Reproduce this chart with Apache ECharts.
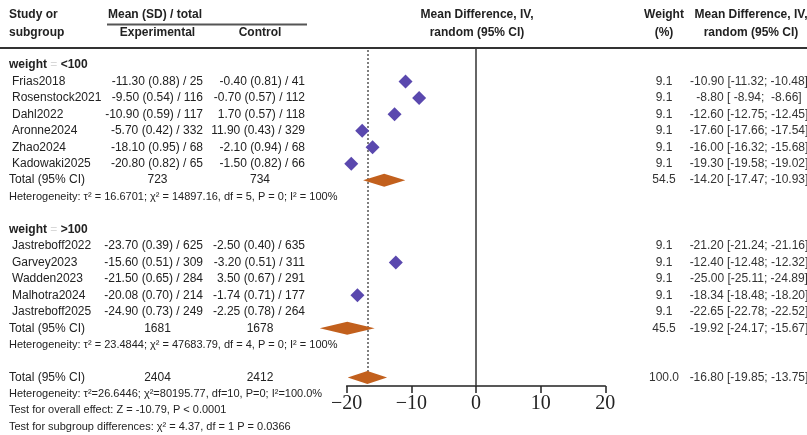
<!DOCTYPE html>
<html><head><meta charset="utf-8">
<script src="https://cdn.jsdelivr.net/npm/echarts@6/dist/echarts.min.js"></script>
<style>html,body{margin:0;padding:0;background:#fff}#c{width:807px;height:435px}</style>
</head><body><div id="c"></div>
<script>
// ---------------- data ----------------
const studies   = ['Frias2018','Rosenstock2021','Dahl2022','Aronne2024','Zhao2024','Kadowaki2025',
                   'Jastreboff2022','Garvey2023','Wadden2023','Malhotra2024','Jastreboff2025'];
const groupOf   = [0,0,0,0,0,0,1,1,1,1,1];
const expMean   = [-11.30,-9.50,-10.90,-5.70,-18.10,-20.80,-23.70,-15.60,-21.50,-20.08,-24.90];
const expSD     = [0.88,0.54,0.59,0.42,0.95,0.82,0.39,0.51,0.65,0.70,0.73];
const expN      = [25,116,117,332,68,65,625,309,284,214,249];
const ctlMean   = [-0.40,-0.70,1.70,11.90,-2.10,-1.50,-2.50,-3.20,3.50,-1.74,-2.25];
const ctlSD     = [0.81,0.57,0.57,0.43,0.94,0.82,0.40,0.51,0.67,0.71,0.78];
const ctlN      = [41,112,118,329,68,66,635,311,291,177,264];
const md        = [-10.90,-8.80,-12.60,-17.60,-16.00,-19.30,-21.20,-12.40,-25.00,-18.34,-22.65];
const mdLo      = [-11.32,-8.94,-12.75,-17.66,-16.32,-19.58,-21.24,-12.48,-25.11,-18.48,-22.78];
const mdHi      = [-10.48,-8.66,-12.45,-17.54,-15.68,-19.02,-21.16,-12.32,-24.89,-18.20,-22.52];
const weights   = [9.1,9.1,9.1,9.1,9.1,9.1,9.1,9.1,9.1,9.1,9.1];

const groupNames = ['<100','>100'];
const groupMD    = [-14.20,-19.92];
const groupLo    = [-17.47,-24.17];
const groupHi    = [-10.93,-15.67];
const groupW     = [54.5,45.5];
const groupHet   = ['Heterogeneity: \u03c4\u00b2 = 16.6701; \u03c7\u00b2 = 14897.16, df = 5, P = 0; I\u00b2 = 100%',
                    'Heterogeneity: \u03c4\u00b2 = 23.4844; \u03c7\u00b2 = 47683.79, df = 4, P = 0; I\u00b2 = 100%'];
const overallMD  = -16.80, overallLo = -19.85, overallHi = -13.75, overallW = 100.0;
const overallTexts = ['Heterogeneity: \u03c4\u00b2=26.6446; \u03c7\u00b2=80195.77, df=10, P=0; I\u00b2=100.0%',
                      'Test for overall effect: Z = -10.79, P < 0.0001',
                      'Test for subgroup differences: \u03c7\u00b2 = 4.37, df = 1 P = 0.0366'];
const xTicks = [-20,-10,0,10,20];

// ---------------- layout ----------------
const W = 807, H = 435;
const ROW0 = 65, ROW_H = 16.45;
const HEADER_LINE_Y = 48, AXIS_Y = 386;
const X_LEFT = 346.7, X_RIGHT = 605.3;
const rowY = r => ROW0 + r * ROW_H;
const SANS = '"Liberation Sans", Arial, Helvetica, sans-serif';
const TXT = '#222';

// rows
const studyRow = [], groupHeadRow = [], groupTotRow = [], groupHetRow = [];
let r = 0;
for (let g = 0; g < 2; g++) {
  groupHeadRow.push(r); r++;
  studies.forEach((s, i) => { if (groupOf[i] === g) { studyRow[i] = r; r++; } });
  groupTotRow.push(r); r++;
  groupHetRow.push(r); r++;
  r++; // blank
}
const overallRow = r;

const fmt2 = v => v.toFixed(2);
const pad = (s, n) => (' '.repeat(Math.max(0, n - s.length))) + s;
const ciText = (m, lo, hi) => fmt2(m) + ' [' + pad(fmt2(lo), 6) + '; ' + pad(fmt2(hi), 6) + ']';
const sum = a => a.reduce((p, c) => p + c, 0);

// ---------------- chart ----------------
const chart = echarts.init(document.getElementById('c'), null, {renderer: 'canvas'});

const summaryData = [];
for (let g = 0; g < 2; g++) summaryData.push([groupMD[g], groupTotRow[g], groupLo[g], groupHi[g]]);
summaryData.push([overallMD, overallRow, overallLo, overallHi]);

const texts = [];
function T(text, x, y, opt) {
  opt = opt || {};
  const size = opt.size || 12;
  const weight = opt.bold ? 'bold' : 'normal';
  texts.push({
    type: 'text', x: x, y: y, silent: true, z: 10,
    style: {
      text: text, fill: opt.color || TXT,
      font: weight + ' ' + size + 'px ' + SANS,
      align: opt.align || 'left', textAlign: opt.align || 'left',
      verticalAlign: 'middle', textVerticalAlign: 'middle',
      rich: opt.rich
    }
  });
}
// header
T('Study or', 9, 15, {bold: true});
T('subgroup', 9, 33, {bold: true});
T('Mean (SD) / total', 108, 15, {bold: true});
T('Experimental', 157.5, 33, {bold: true, align: 'center'});
T('Control', 260, 33, {bold: true, align: 'center'});
T('Mean Difference, IV,', 477, 15, {bold: true, align: 'center'});
T('random (95% CI)', 477, 33, {bold: true, align: 'center'});
T('Weight', 664, 15, {bold: true, align: 'center'});
T('(%)', 664, 33, {bold: true, align: 'center'});
T('Mean Difference, IV,', 751, 15, {bold: true, align: 'center'});
T('random (95% CI)', 751, 33, {bold: true, align: 'center'});

for (let g = 0; g < 2; g++) {
  T('{b|weight} {g|=} {b|' + groupNames[g] + '}', 9, rowY(groupHeadRow[g]), {
    rich: {
      b: {font: 'bold 12px ' + SANS, fill: TXT},
      g: {font: 'normal 12px ' + SANS, fill: '#d8d8d8'}
    }
  });
  const idx = studies.map((s, i) => i).filter(i => groupOf[i] === g);
  idx.forEach(i => {
    const y = rowY(studyRow[i]);
    T(studies[i], 12, y);
    T(fmt2(expMean[i]) + ' (' + fmt2(expSD[i]) + ') / ' + expN[i], 203, y, {align: 'right'});
    T(fmt2(ctlMean[i]) + ' (' + fmt2(ctlSD[i]) + ') / ' + ctlN[i], 305, y, {align: 'right'});
    T(weights[i].toFixed(1), 664, y, {align: 'center', color: '#333'});
    T(ciText(md[i], mdLo[i], mdHi[i]), 749, y, {align: 'center', color: '#333'});
  });
  const yt = rowY(groupTotRow[g]);
  T('Total (95% CI)', 9, yt);
  T(String(sum(idx.map(i => expN[i]))), 157.5, yt, {align: 'center'});
  T(String(sum(idx.map(i => ctlN[i]))), 260, yt, {align: 'center'});
  T(groupW[g].toFixed(1), 664, yt, {align: 'center', color: '#333'});
  T(ciText(groupMD[g], groupLo[g], groupHi[g]), 749, yt, {align: 'center', color: '#333'});
  T(groupHet[g], 9, rowY(groupHetRow[g]), {size: 11});
}
const yo = rowY(overallRow);
T('Total (95% CI)', 9, yo);
T(String(sum(expN)), 157.5, yo, {align: 'center'});
T(String(sum(ctlN)), 260, yo, {align: 'center'});
T(overallW.toFixed(1), 664, yo, {align: 'center', color: '#333'});
T(ciText(overallMD, overallLo, overallHi), 749, yo, {align: 'center', color: '#333'});
overallTexts.forEach((t, k) => T(t, 9, rowY(overallRow + 1 + k), {size: 11}));

// rules
texts.push({type: 'line', silent: true, shape: {x1: 107, y1: 24.5, x2: 307, y2: 24.5}, style: {stroke: '#555', lineWidth: 2}});
texts.push({type: 'line', silent: true, shape: {x1: 0, y1: HEADER_LINE_Y, x2: W, y2: HEADER_LINE_Y}, style: {stroke: '#333', lineWidth: 2}});

chart.setOption({
  animation: false,
  backgroundColor: '#fff',
  grid: {left: X_LEFT, right: W - X_RIGHT, top: HEADER_LINE_Y, bottom: H - AXIS_Y, containLabel: false},
  xAxis: {
    type: 'value', min: xTicks[0], max: xTicks[xTicks.length - 1], interval: 10,
    axisLine: {show: true, onZero: false, lineStyle: {color: '#222', width: 1.5}},
    axisTick: {show: true, inside: false, length: 7, lineStyle: {color: '#222', width: 1.5}},
    axisLabel: {
      fontFamily: '"Liberation Serif", "DejaVu Serif", serif', fontSize: 20, color: '#222', margin: 8,
      formatter: v => (v < 0 ? '\u2212' + Math.abs(v) : String(v))
    },
    splitLine: {show: false}
  },
  yAxis: {
    type: 'value', inverse: true, show: false,
    min: (HEADER_LINE_Y - ROW0) / ROW_H, max: (AXIS_Y - ROW0) / ROW_H
  },
  graphic: {elements: texts},
  series: [
    {
      type: 'scatter', symbol: 'diamond', symbolSize: 14,
      itemStyle: {color: '#5a48ae', opacity: 1},
      data: studies.map((s, i) => [md[i], studyRow[i]]),
      z: 5,
      markLine: {
        silent: true, symbol: 'none', label: {show: false},
        data: [
          {xAxis: 0, lineStyle: {color: '#333', width: 1.5, type: 'solid'}},
          [{coord: [overallMD, (HEADER_LINE_Y + 2 - ROW0) / ROW_H], lineStyle: {color: '#555', width: 1.5, type: [2, 2]}},
           {coord: [overallMD, overallRow - 0.3]}]
        ]
      }
    },
    {
      type: 'custom', z: 6,
      data: summaryData,
      encode: {x: 0, y: 1},
      renderItem: function (params, api) {
        const c = api.coord([api.value(0), api.value(1)]);
        const l = api.coord([api.value(2), api.value(1)]);
        const rr = api.coord([api.value(3), api.value(1)]);
        const h = 6.5;
        return {
          type: 'polygon',
          shape: {points: [[l[0], c[1]], [c[0], c[1] - h], [rr[0], c[1]], [c[0], c[1] + h]]},
          style: {fill: '#c2601d'}
        };
      }
    }
  ]
});
</script>
</body></html>
